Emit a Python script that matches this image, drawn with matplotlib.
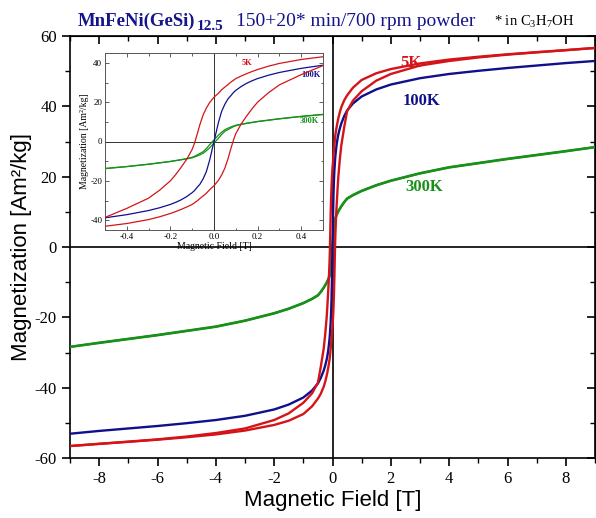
import matplotlib
matplotlib.use("Agg")
import matplotlib.pyplot as plt
from matplotlib.ticker import MultipleLocator

SERIF = 'Liberation Serif'
SANS = 'Liberation Sans'
plt.rcParams['font.family'] = [SERIF, 'DejaVu Serif']
plt.rcParams['axes.unicode_minus'] = False
plt.rcParams['mathtext.fontset'] = 'custom'
plt.rcParams['mathtext.rm'] = 'Liberation Serif'
plt.rcParams['mathtext.it'] = 'Liberation Serif:italic'
plt.rcParams['mathtext.bf'] = 'Liberation Serif:bold'

# ---------------- data ----------------
# field grid, descending sweep (+9 T -> -9 T)
field_down = [9, 8, 7, 6, 5, 4, 3, 2, 1.5, 1, 0.7, 0.5, 0.4, 0.3, 0.25, 0.2, 0.175, 0.15,
              0.125, 0.1, 0.09, 0.075, 0.065, 0.05, 0.035, 0.02, 0, -0.02, -0.035, -0.05,
              -0.065, -0.075, -0.09, -0.1, -0.125, -0.15, -0.175, -0.2, -0.25, -0.3, -0.4,
              -0.5, -0.7, -1, -1.5, -2, -3, -4, -5, -6, -7, -8, -9]
# field grid, ascending sweep (-9 T -> +9 T)
field_up = [-9, -8, -7, -6, -5, -4, -3, -2, -1.5, -1, -0.7, -0.5, -0.4, -0.3, -0.25, -0.2,
            -0.175, -0.15, -0.125, -0.1, -0.09, -0.075, -0.065, -0.05, -0.035, -0.02, 0,
            0.02, 0.035, 0.05, 0.065, 0.075, 0.09, 0.1, 0.125, 0.15, 0.175, 0.2, 0.25, 0.3,
            0.4, 0.5, 0.7, 1, 1.5, 2, 3, 4, 5, 6, 7, 8, 9]

m5K_down = [56.6, 56.0, 55.4, 54.8, 54.1, 53.3, 52.2, 50.6, 49.4, 47.5, 45.3, 43.1, 41.7,
            39.7, 38.3, 36.6, 35.6, 34.5, 33.3, 32.0, 31.2, 30.0, 29.0, 27.7, 26.3, 24.5,
            22.5, 19.8, 17.0, 13.5, 8.5, 4.5, -1.0, -4.0, -9.0, -13.0, -16.7, -20.0, -24.8,
            -28.8, -34.0, -38.6, -41.6, -44.3, -47.3, -49.2, -51.6, -52.9, -53.9, -54.7,
            -55.35, -55.95, -56.6]
m5K_up = [-56.6, -56.0, -55.4, -54.8, -54.1, -53.3, -52.2, -50.6, -49.4, -47.5, -45.3,
          -43.1, -41.7, -39.7, -38.3, -36.6, -35.6, -34.5, -33.3, -32.0, -31.2, -30.0,
          -29.0, -27.7, -26.3, -24.5, -22.5, -19.8, -17.0, -13.5, -8.5, -4.5, 1.0, 4.0,
          9.0, 13.0, 16.7, 20.0, 24.8, 28.8, 34.0, 38.6, 41.6, 44.3, 47.3, 49.2, 51.6,
          52.9, 53.9, 54.7, 55.35, 55.95, 56.6]

m100K = [52.9, 52.3, 51.6, 50.9, 50.1, 49.2, 48.0, 46.2, 44.8, 42.8, 40.8, 38.8, 37.2,
         35.1, 33.7, 32.0, 30.9, 29.6, 28.0, 26.0, 25.0, 23.0, 21.8, 19.0, 15.3, 9.5, 0.0,
         -9.5, -15.3, -19.0, -21.8, -23.0, -25.0, -26.0, -28.0, -29.6, -30.9, -32.0,
         -33.7, -35.1, -37.2, -38.8, -40.8, -42.8, -44.8, -46.2, -48.0, -49.2, -50.1,
         -50.9, -51.6, -52.3, -53.1]

m300K_down = [28.4, 27.3, 26.2, 25.1, 23.9, 22.7, 21.0, 18.9, 17.6, 16.0, 14.8, 13.8, 12.8,
              11.6, 10.9, 10.2, 9.75, 9.3, 8.8, 8.3, 7.9, 7.3, 6.8, 6.0, 4.7, 3.2, 0.8,
              -1.6, -3.6, -5.2, -6.1, -6.7, -7.6, -8.0, -8.7, -9.2, -9.65, -10.1, -10.8,
              -11.5, -12.7, -13.7, -14.7, -15.9, -17.5, -18.8, -20.9, -22.6, -23.8, -25.0,
              -26.1, -27.2, -28.4]
m300K_up = [-28.4, -27.3, -26.2, -25.1, -23.9, -22.7, -21.0, -18.9, -17.6, -16.0, -14.8,
            -13.8, -12.8, -11.6, -10.9, -10.2, -9.75, -9.3, -8.8, -8.3, -7.9, -7.3, -6.8,
            -6.0, -4.7, -3.2, -0.8, 1.6, 3.6, 5.2, 6.1, 6.7, 7.6, 8.0, 8.7, 9.2, 9.65, 10.1,
            10.8, 11.5, 12.7, 13.7, 14.7, 15.9, 17.5, 18.8, 20.9, 22.6, 23.8, 25.0, 26.1,
            27.2, 28.4]

labels = ["5K", "100K", "300K"]
RED, BLUE, GREEN = '#d41418', '#10108c', '#18901a'
TITLE_C = '#14148c'

# ---------------- figure ----------------
fig = plt.figure(figsize=(5.96, 5.18), dpi=100)
ax = fig.add_axes([70/596, 1-458/518, 525/596, 422/518])

lw = 1.7
ax.plot(field_down, m300K_down, color=GREEN, lw=lw, zorder=3)
ax.plot(field_up, m300K_up, color=GREEN, lw=lw, zorder=3)
ax.plot(field_down, m100K, color=BLUE, lw=lw, zorder=4)
ax.plot(field_down, m5K_down, color=RED, lw=lw, zorder=5)
ax.plot(field_up, m5K_up, color=RED, lw=lw, zorder=5)
ax.axhline(0, color='black', lw=1.2, zorder=2)
ax.axvline(0, color='black', lw=1.2, zorder=2)

ax.set_xlim(-9, 9)
ax.set_ylim(-60, 60)
ax.xaxis.set_major_locator(MultipleLocator(2))
ax.xaxis.set_minor_locator(MultipleLocator(1))
ax.yaxis.set_major_locator(MultipleLocator(20))
ax.yaxis.set_minor_locator(MultipleLocator(10))
ax.tick_params(which='major', direction='out', length=6, width=1.2, labelsize=12)
ax.tick_params(which='minor', direction='out', length=3.5, width=1.0)
for s in ax.spines.values():
    s.set_linewidth(1.2)

sec_x = ax.secondary_xaxis('top')
sec_x.xaxis.set_major_locator(MultipleLocator(2))
sec_x.xaxis.set_minor_locator(MultipleLocator(1))
sec_x.tick_params(which='major', direction='in', length=6, width=1.2, labeltop=False)
sec_x.tick_params(which='minor', direction='in', length=3.5, width=1.0)
sec_y = ax.secondary_yaxis('right')
sec_y.yaxis.set_major_locator(MultipleLocator(20))
sec_y.yaxis.set_minor_locator(MultipleLocator(10))
sec_y.tick_params(which='major', direction='in', length=6, width=1.2, labelright=False)
sec_y.tick_params(which='minor', direction='in', length=3.5, width=1.0)

ax.set_xlabel("Magnetic Field [T]", fontfamily=SANS, fontsize=16, labelpad=2)
ax.set_ylabel("Magnetization [Am²/kg]", fontfamily=SANS, fontsize=16, labelpad=2)

ax.text(2.7, 52.4, labels[0], color=RED, fontweight='bold', fontsize=12, ha='center', va='center')
ax.text(3.05, 41.6, labels[1], color=BLUE, fontweight='bold', fontsize=12, ha='center', va='center')
ax.text(3.15, 17.0, labels[2], color=GREEN, fontweight='bold', fontsize=12, ha='center', va='center')

# ---------------- inset ----------------
ia = fig.add_axes([105/596, 1-230/518, 218/596, 177/518])
ilw = 0.9
ia.plot(field_down, m300K_down, color=GREEN, lw=ilw, zorder=3)
ia.plot(field_up, m300K_up, color=GREEN, lw=ilw, zorder=3)
ia.plot(field_down, m100K, color=BLUE, lw=ilw, zorder=4)
ia.plot(field_down, m5K_down, color=RED, lw=ilw, zorder=5)
ia.plot(field_up, m5K_up, color=RED, lw=ilw, zorder=5)
ia.axhline(0, color='#333333', lw=0.7, zorder=2)
ia.axvline(0, color='#333333', lw=0.7, zorder=2)
ia.set_xlim(-0.5, 0.5)
ia.set_ylim(-45, 45)
ia.xaxis.set_major_locator(MultipleLocator(0.2))
ia.xaxis.set_minor_locator(MultipleLocator(0.1))
ia.yaxis.set_major_locator(MultipleLocator(20))
ia.yaxis.set_minor_locator(MultipleLocator(10))
ia.tick_params(which='both', direction='in', top=True, right=True, labelsize=6.5,
               width=0.6, color='#444444', pad=2)
ia.tick_params(which='major', length=3)
ia.tick_params(which='minor', length=1.8)
for s in ia.spines.values():
    s.set_linewidth(0.7)
    s.set_color('#555555')
ia.set_xlabel("Magnetic Field [T]", fontsize=7, labelpad=1)
ia.set_ylabel("Magnetization [Am²/kg]", fontsize=7, labelpad=1)
ia.text(0.15, 40.0, labels[0], color=RED, fontweight='bold', fontsize=6, ha='center', va='center')
ia.text(0.445, 33.7, labels[1], color=BLUE, fontweight='bold', fontsize=6, ha='center', va='center')
ia.text(0.435, 10.2, labels[2], color=GREEN, fontweight='bold', fontsize=6, ha='center', va='center')

# ---------------- title ----------------
yb = 1 - 26/518
fig.text(78/596, yb, "MnFeNi(GeSi)", fontweight='bold', fontsize=13.5,
         color=TITLE_C, va='baseline', ha='left')
fig.text(197/596, 1 - 30.5/518, "12.5", fontweight='bold', fontsize=11,
         color=TITLE_C, va='baseline', ha='left')
fig.text(236/596, yb, "150+20* min/700 rpm powder", fontsize=14,
         color=TITLE_C, va='baseline', ha='left')
fig.text(494/596, yb, "* in C$_3$H$_7$OH", fontsize=10.5,
         color='black', va='baseline', ha='left')

fig.savefig("out.png", dpi=100)
